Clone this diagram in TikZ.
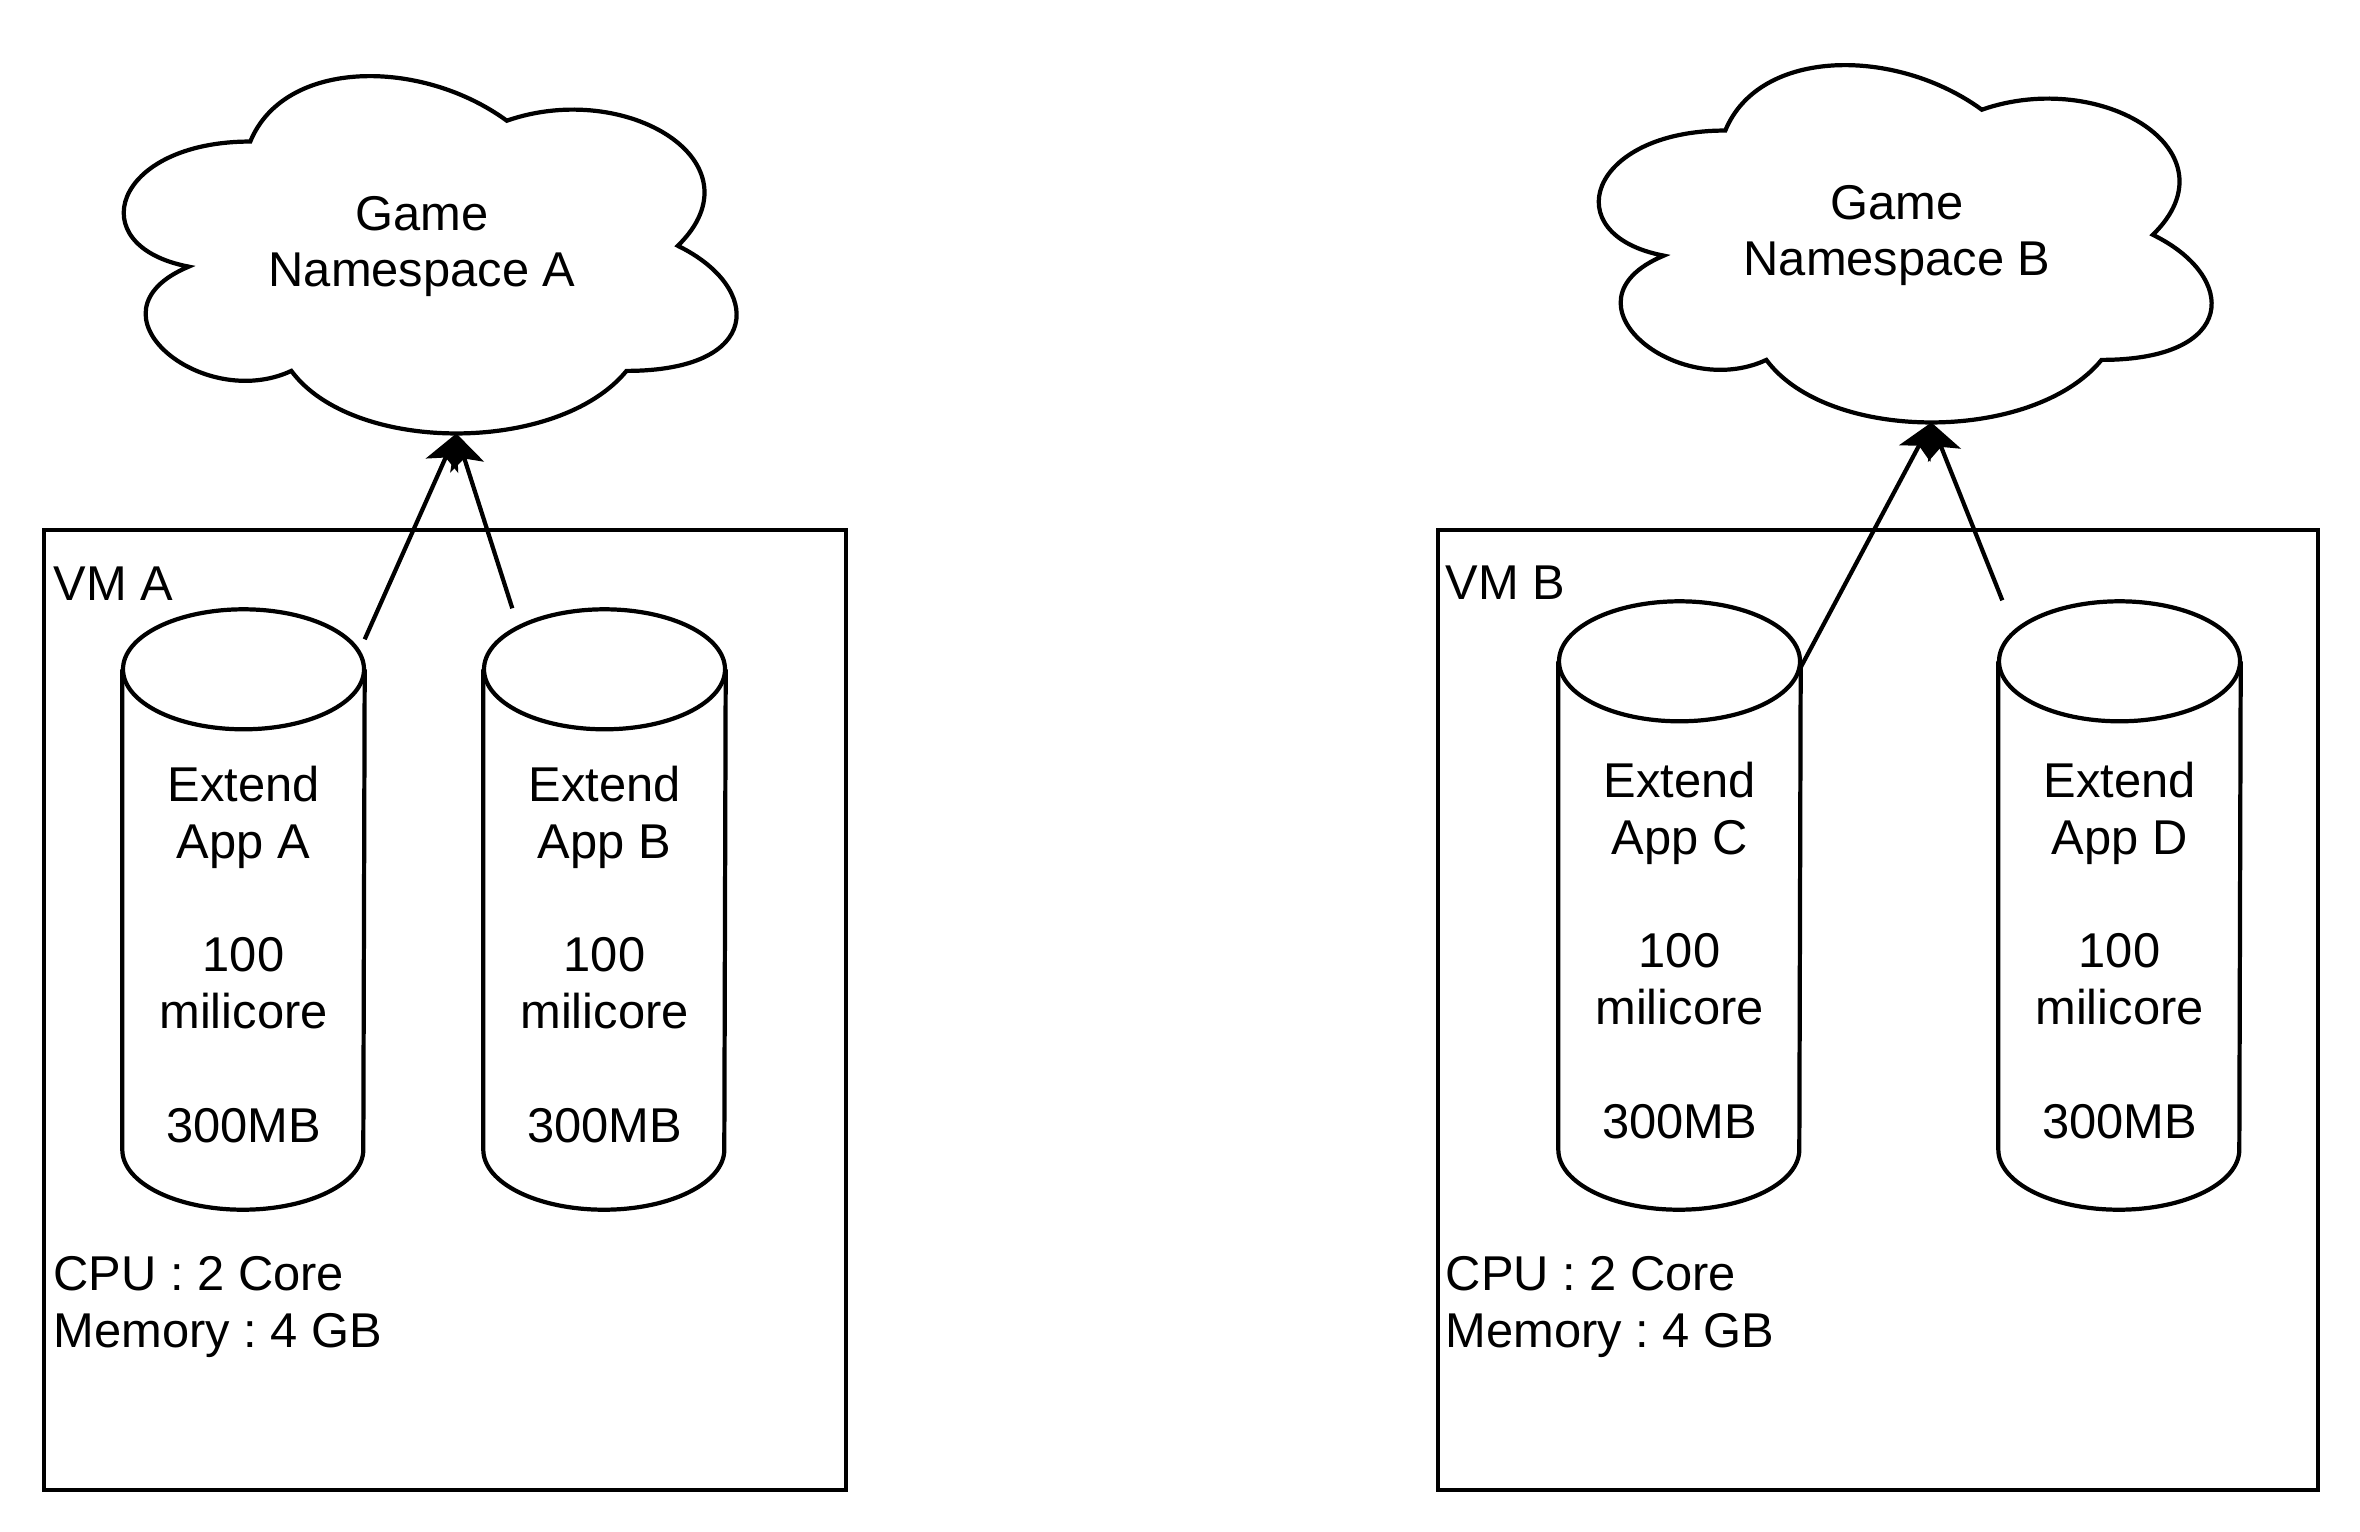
\documentclass[tikz,border=0pt]{standalone}
\usepackage{fontspec}
\setmainfont{Liberation Sans}
\usetikzlibrary{arrows.meta,calc}
\tikzset{
  gep/.style={draw,line width=1.25pt,inner sep=0pt,minimum height=96mm},
  henger/.style={line width=1.2pt},
  felho/.style={inner sep=0pt,minimum width=68.4mm,minimum height=41.7mm,align=center},
  app/.style={inner sep=0pt,minimum width=24.1mm,minimum height=50.9mm,align=center},
  felirat/.style={inner sep=0pt,align=left,anchor=base west},
  nyil/.style={line width=1.2pt,-{Stealth[length=10pt,width=10pt,inset=2.5pt]}},
}
\newcommand\felhorajz[1]{%
  \begin{scope}[shift={(#1.north west)},x=68.4mm,y=-41.7mm]
    \draw[henger] (0.25,0.25) .. controls (0.05,0.25) and (0,0.5) .. (0.16,0.55)
      .. controls (0,0.66) and (0.18,0.9) .. (0.31,0.8)
      .. controls (0.4,1) and (0.7,1) .. (0.8,0.8)
      .. controls (1,0.8) and (1,0.6) .. (0.875,0.5)
      .. controls (1,0.3) and (0.8,0.1) .. (0.625,0.2)
      .. controls (0.5,0.05) and (0.3,0.05) .. cycle;
    \coordinate (#1-al) at (0.55125,0.95);
  \end{scope}}
\newcommand\hengerrajz[1]{%
  \draw[henger] ($(#1.north)+(0,-30)$) ellipse [x radius=12.05mm,y radius=6mm];
  \draw[henger] ($(#1.north west)+(0,-30)$) -- ($(#1.south west)+(0,-60)$)
    arc[start angle=180,end angle=360,x radius=12.05mm,y radius=6mm]
    -- ($(#1.north east)+(0,-30)$);}

\begin{document}
\begin{tikzpicture}[x=0.1mm,y=-0.1mm,font=\fontsize{13.9}{16.2}\selectfont\frenchspacing]
  \useasboundingbox (0,0) rectangle (2360,1532);
  \node[gep,minimum width=80.2mm] (vmA) at (445,1010) {};
  \node[gep,minimum width=88mm] (vmB) at (1878,1010) {};
  \node[felirat] (nevA) at (53,600) {VM A};
  \node[felirat] (nevB) at (1445,599) {VM B};
  \node[felirat] (cpuA) at (53,1347) {CPU : 2 Core\\Memory : 4 GB};
  \node[felirat] (cpuB) at (1445,1347) {CPU : 2 Core\\Memory : 4 GB};

  \node[app] (appA) at (243.5,954.5) {Extend\\App A\\[16.2pt]100\\milicore\\[16.2pt]300MB};
  \node[app] (appB) at (604.5,954.5) {Extend\\App B\\[16.2pt]100\\milicore\\[16.2pt]300MB};
  \node[app,minimum height=51.7mm] (appC) at (1679.5,950.5) {Extend\\App C\\[16.2pt]100\\milicore\\[16.2pt]300MB};
  \node[app,minimum height=51.7mm] (appD) at (2119.5,950.5) {Extend\\App D\\[16.2pt]100\\milicore\\[16.2pt]300MB};
  \hengerrajz{appA} \hengerrajz{appB} \hengerrajz{appC} \hengerrajz{appD}

  \node[felho] (nsA) at (422,246.5) {Game\\Namespace A};
  \node[felho] (nsB) at (1897,235.5) {Game\\Namespace B};
  \felhorajz{nsA} \felhorajz{nsB}

  \draw[nyil] ($(appA.north east)+(0,-60)$) -- (nsA-al);
  \draw[nyil] ($(appB.north west)+(29,-91)$) -- (nsA-al);
  \draw[nyil] ($(appC.north east)+(0,-24)$) -- (nsB-al);
  \draw[nyil] ($(appD.north west)+(4,-91)$) -- (nsB-al);
\end{tikzpicture}
\end{document}
